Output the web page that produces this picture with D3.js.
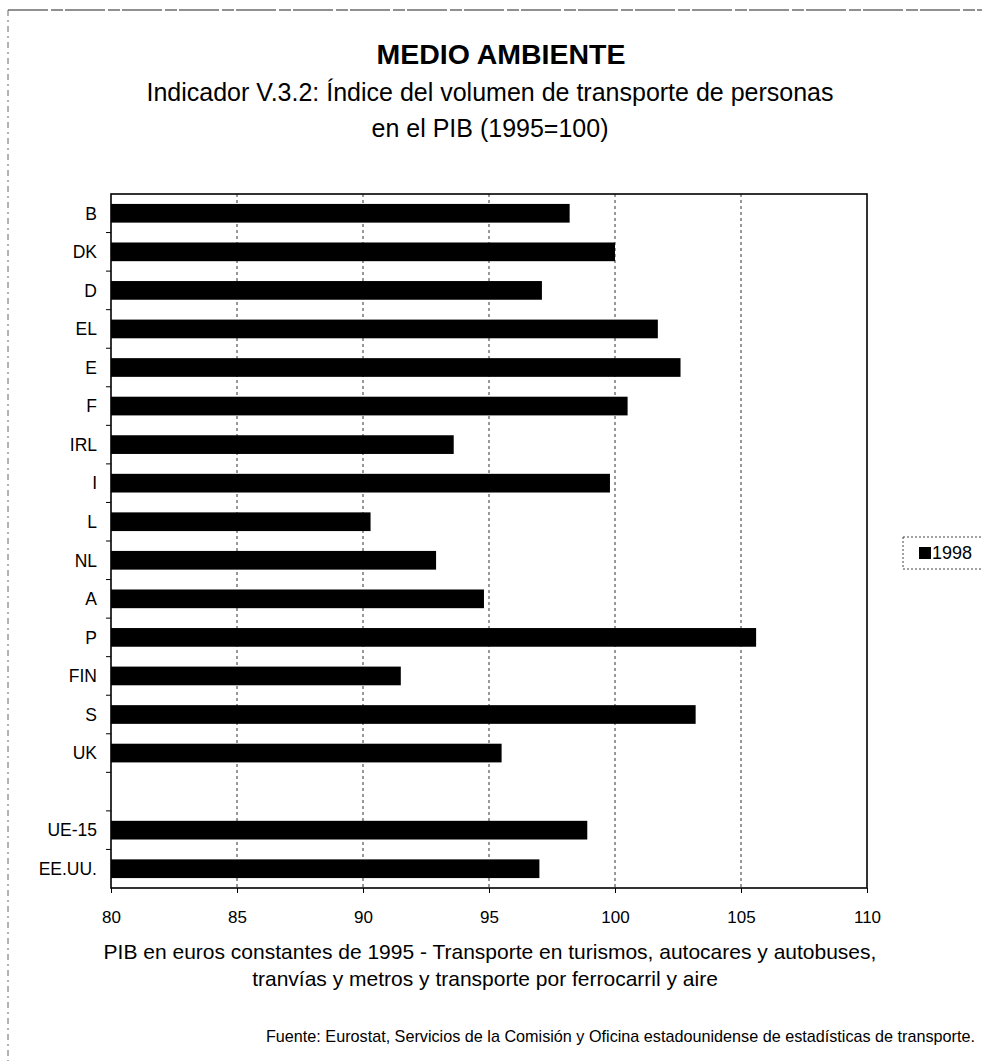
<!DOCTYPE html>
<html>
<head>
<meta charset="utf-8">
<script src="https://cdn.jsdelivr.net/npm/d3@7"></script>
<style>
  html, body { margin: 0; padding: 0; background: #fff; }
  svg { display: block; }
  text { font-family: "Liberation Sans", Arial, Helvetica, sans-serif; fill: #000; }
</style>
</head>
<body>
<svg id="chart" width="982" height="1061"></svg>
<script>
// Country codes, top to bottom; "" leaves the gap before the aggregates
const categories = ["B", "DK", "D", "EL", "E", "F", "IRL", "I", "L", "NL", "A", "P", "FIN", "S", "UK", "", "UE-15", "EE.UU."];
// Index of passenger transport volume relative to GDP, 1998 (1995 = 100)
const values1998 = [98.2, 100.0, 97.1, 101.7, 102.6, 100.5, 93.6, 99.8, 90.3, 92.9, 94.8, 105.6, 91.5, 103.2, 95.5, null, 98.9, 97.0];
const xTicks = [80, 85, 90, 95, 100, 105, 110];
const seriesName = "1998";

const svg = d3.select("#chart");
const W = 982, H = 1061;
const plot = { left: 111, right: 867, top: 194, bottom: 888 };

// Scanned-page frame (dashed top and left edges)
svg.append("line").attr("x1", 8).attr("x2", W).attr("y1", 10).attr("y2", 10)
  .attr("stroke", "#222").attr("stroke-width", 1.2).attr("stroke-dasharray", "40 3 12 2");
svg.append("line").attr("x1", 8).attr("x2", 8).attr("y1", 10).attr("y2", H)
  .attr("stroke", "#666").attr("stroke-width", 1).attr("stroke-dasharray", "6 4 2 4");

// Titles
svg.append("text").attr("x", 501).attr("y", 64).attr("text-anchor", "middle")
  .attr("font-size", 27).attr("font-weight", "bold")
  .attr("textLength", 249).attr("lengthAdjust", "spacingAndGlyphs").text("MEDIO AMBIENTE");
svg.append("text").attr("x", 490).attr("y", 101).attr("text-anchor", "middle")
  .attr("font-size", 25).text("Indicador V.3.2: Índice del volumen de transporte de personas");
svg.append("text").attr("x", 490).attr("y", 137).attr("text-anchor", "middle")
  .attr("font-size", 25).text("en el PIB (1995=100)");

const x = d3.scaleLinear().domain([80, 110]).range([plot.left, plot.right]);
const y = d3.scaleBand().domain(categories).range([plot.top, plot.bottom])
  .paddingInner(0.515).paddingOuter(0.2575);

const g = svg.append("g");

// Dashed vertical gridlines
g.selectAll("line.grid").data(xTicks.slice(1, -1)).join("line")
  .attr("class", "grid")
  .attr("x1", d => x(d)).attr("x2", d => x(d))
  .attr("y1", plot.top).attr("y2", plot.bottom)
  .attr("stroke", "#333").attr("stroke-width", 1).attr("stroke-dasharray", "3 3");

// Bars
g.selectAll("rect.bar").data(categories.map((c, i) => ({ c, v: values1998[i] })).filter(d => d.v != null))
  .join("rect").attr("class", "bar")
  .attr("x", x(80))
  .attr("y", d => y(d.c))
  .attr("width", d => x(d.v) - x(80))
  .attr("height", y.bandwidth())
  .attr("fill", "#000");

// Plot frame
g.append("rect").attr("x", plot.left).attr("y", plot.top)
  .attr("width", plot.right - plot.left).attr("height", plot.bottom - plot.top)
  .attr("fill", "none").attr("stroke", "#000").attr("stroke-width", 1.6);

// Bottom axis
const xAxis = d3.axisBottom(x).tickValues(xTicks).tickSize(5).tickPadding(18);
const xg = svg.append("g").attr("transform", `translate(0,${plot.bottom})`).call(xAxis);
xg.select(".domain").remove();
xg.attr("font-size", 17).attr("font-family", "Liberation Sans, Arial, sans-serif");
xg.selectAll("line").attr("stroke", "#000");

// Left category axis: labels centred on bands, ticks between categories
const step = y.step();
categories.forEach(c => {
  if (c) {
    svg.append("text").attr("x", 97).attr("y", y(c) + y.bandwidth() / 2)
      .attr("dy", "0.36em").attr("text-anchor", "end").attr("font-size", 17.5).text(c);
  }
});
const boundaries = d3.range(1, categories.length).map(i => plot.top + i * step);
svg.selectAll("line.ytick").data(boundaries).join("line").attr("class", "ytick")
  .attr("x1", plot.left - 5).attr("x2", plot.left)
  .attr("y1", d => d).attr("y2", d => d)
  .attr("stroke", "#000").attr("stroke-width", 1);

// Axis caption
svg.append("text").attr("x", 490).attr("y", 959).attr("text-anchor", "middle")
  .attr("font-size", 21).text("PIB en euros constantes de 1995 - Transporte en turismos, autocares y autobuses,");
svg.append("text").attr("x", 485).attr("y", 986).attr("text-anchor", "middle")
  .attr("font-size", 21).text("tranvías y metros y transporte por ferrocarril y aire");

// Source
svg.append("text").attr("x", 975).attr("y", 1042).attr("text-anchor", "end")
  .attr("font-size", 16.2).text("Fuente: Eurostat, Servicios de la Comisión y Oficina estadounidense de estadísticas de transporte.");

// Legend
const lg = svg.append("g").attr("transform", "translate(903,537)");
lg.append("rect").attr("x", 0).attr("y", 0).attr("width", 85).attr("height", 32)
  .attr("fill", "#fff").attr("stroke", "#444").attr("stroke-width", 1).attr("stroke-dasharray", "2 2");
lg.append("rect").attr("x", 16).attr("y", 10).attr("width", 12).attr("height", 12).attr("fill", "#000");
lg.append("text").attr("x", 29).attr("y", 16).attr("dy", "0.36em").attr("font-size", 18).text(seriesName);
</script>
</body>
</html>
